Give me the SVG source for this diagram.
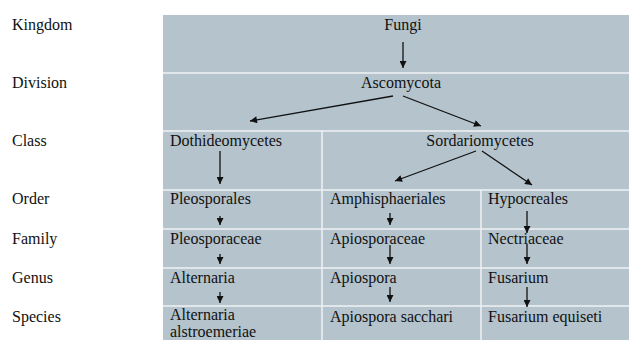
<svg xmlns="http://www.w3.org/2000/svg" width="629" height="340" viewBox="0 0 629 340">
<style>
text{font-family:'Liberation Serif','Tinos','Times New Roman','DejaVu Serif',serif;font-size:16px;fill:#111}
.c{text-anchor:middle}
.div{stroke:#eef2f4;stroke-width:1.5;fill:none}
.a{stroke:#111;stroke-width:1.3;fill:none;marker-end:url(#ah)}
</style>
<defs>
<marker id="ah" viewBox="0 0 10 10" refX="10" refY="5" markerWidth="8" markerHeight="7" markerUnits="userSpaceOnUse" orient="auto"><path d="M0,0 L10,5 L0,10 z" fill="#111"/></marker>
</defs>
<rect width="629" height="340" fill="#fff"/>
<g id="table">
<rect x="163" y="15" width="466" height="325" fill="#b4c3cc"/>
<path class="div" d="M163,73H629M163,131H629M163,190H629M163,229H629M163,268H629M163,306H629M322,131V340M481,190V340"/>
</g>
<g id="rank-labels">
<text x="12" y="30">Kingdom</text>
<text x="12" y="88">Division</text>
<text x="12" y="146">Class</text>
<text x="12" y="204">Order</text>
<text x="12" y="244">Family</text>
<text x="12" y="283">Genus</text>
<text x="12" y="322">Species</text>
</g>
<g id="fungi"><text class="c" x="403" y="30">Fungi</text></g>
<g id="ascomycota"><text class="c" x="401" y="88">Ascomycota</text></g>
<g id="dothideomycetes"><text x="170" y="146">Dothideomycetes</text></g>
<g id="sordariomycetes"><text class="c" x="480" y="146">Sordariomycetes</text></g>
<g id="pleosporales"><text x="170" y="204">Pleosporales</text></g>
<g id="amphisphaeriales"><text x="330" y="204">Amphisphaeriales</text></g>
<g id="hypocreales"><text x="488" y="204">Hypocreales</text></g>
<g id="pleosporaceae"><text x="170" y="244">Pleosporaceae</text></g>
<g id="apiosporaceae"><text x="330" y="244">Apiosporaceae</text></g>
<g id="nectriaceae"><text x="488" y="244">Nectriaceae</text></g>
<g id="alternaria"><text x="170" y="283">Alternaria</text></g>
<g id="apiospora"><text x="330" y="283">Apiospora</text></g>
<g id="fusarium"><text x="488" y="283">Fusarium</text></g>
<g id="alternaria-alstroemeriae"><text x="170" y="320">Alternaria</text><text x="170" y="337">alstroemeriae</text></g>
<g id="apiospora-sacchari"><text x="330" y="322">Apiospora sacchari</text></g>
<g id="fusarium-equiseti"><text x="488" y="322">Fusarium equiseti</text></g>
<g id="connectors">
<path class="a" d="M403,42V68"/>
<path class="a" d="M393,96L250,121"/>
<path class="a" d="M403,96L481,126"/>
<path class="a" d="M220,151V184"/>
<path class="a" d="M476,151L395,181"/>
<path class="a" d="M482,151L532,185"/>
<path class="a" d="M220,216V225"/>
<path class="a" d="M220,254V264"/>
<path class="a" d="M220,292V303"/>
<path class="a" d="M390,213V225"/>
<path class="a" d="M390,245V264"/>
<path class="a" d="M390,287V302"/>
<path class="a" d="M527,211V233"/>
<path class="a" d="M527,244V264"/>
<path class="a" d="M527,287V307"/>
</g>
</svg>
